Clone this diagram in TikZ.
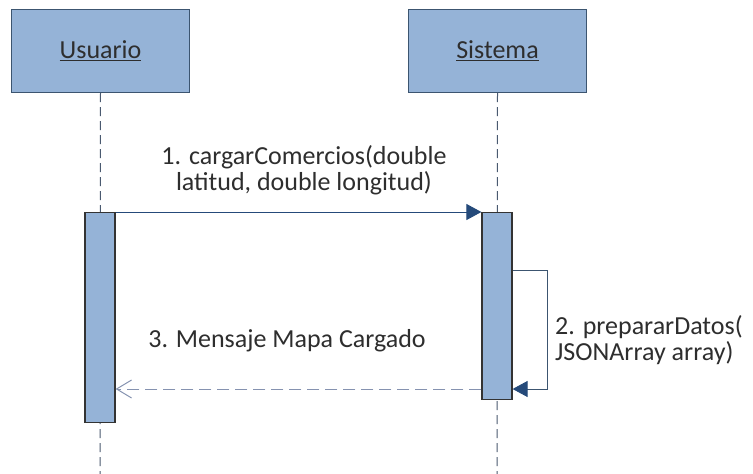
\documentclass[tikz,border=0pt]{standalone}
\usepackage{fontspec}
\setmainfont{Carlito}
\usetikzlibrary{arrows.meta,calc}
\definecolor{boxfill}{HTML}{95B3D7}
\definecolor{boxedge}{HTML}{3C5570}
\definecolor{msgblue}{HTML}{254A7A}
\definecolor{retgray}{HTML}{8592B0}
\definecolor{lifeline}{HTML}{4A5A70}
\definecolor{txt}{HTML}{2E2E2E}
\begin{document}
\begin{tikzpicture}[x=1pt,y=-1pt,
  every node/.style={font=\fontsize{26}{26}\selectfont, text=txt},
  actor/.style={draw=boxedge, fill=boxfill, line width=1pt,
    minimum width=178pt, minimum height=83pt, inner sep=0pt},
  activation/.style={draw=black!80, fill=boxfill, line width=1.2pt,
    minimum width=30pt, inner sep=0pt},
  lifelinestyle/.style={draw=lifeline, line width=1pt, dash pattern=on 9pt off 5pt},
  call/.style={draw=msgblue, line width=1pt, -{Triangle[length=15pt,width=16pt]}},
  selfcall/.style={draw=boxedge, line width=0.9pt, -{Triangle[length=15pt,width=16pt,color=msgblue,fill=msgblue]}},
  reply/.style={draw=retgray, line width=1pt, dash pattern=on 12pt off 6pt,
    -{Straight Barb[length=15pt,width=18pt,line width=1pt]}}
]
\useasboundingbox (0,0) rectangle (753,474);
\fill[white] (0,0) rectangle (753,474);

% participants
\node[actor, anchor=north west] (usuario) at (11,9) {\underline{Usuario}};
\node[actor, anchor=north west] (sistema) at (408,9) {\underline{Sistema}};

% lifelines
\coordinate (uend) at (100,474);
\coordinate (send) at (497,474);
\draw[lifelinestyle] (usuario.south) -- (uend);
\draw[lifelinestyle] (sistema.south) -- (send);

% activation bars
\node[activation, minimum height=210pt, anchor=north] (actU) at (100,212) {};
\node[activation, minimum height=187pt, anchor=north] (actS) at (497,212) {};

% 1. call
\draw[call] (actU.north east) -- (actS.north west);
\node[align=center] (m1) at (304,170) {1. cargarComercios(double\\latitud, double longitud)};

% 2. self call
\draw[selfcall] ($(actS.north east)+(0,58)$) -- ++(35,0) -- ++(0,119) -- ($(actS.north east)+(0,177)$);
\node[align=left, anchor=west, inner sep=0pt] (m2) at (555,340) {2. prepararDatos(\\JSONArray array)};

% 3. reply
\draw[reply] ($(actS.north west)+(0,177)$) -- ($(actU.north east)+(0,177)$);
\node (m3) at (287,341) {3. Mensaje Mapa Cargado};
\end{tikzpicture}
\end{document}
